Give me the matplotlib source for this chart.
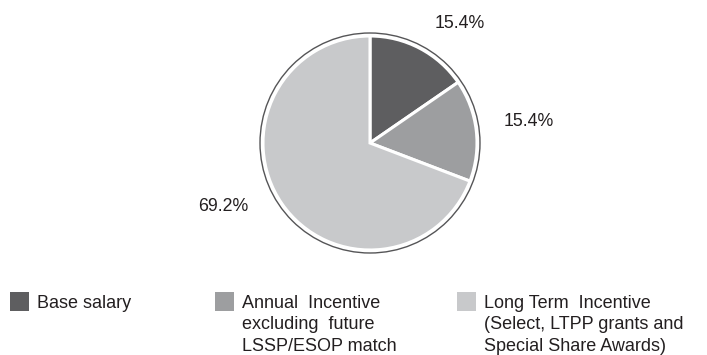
import numpy as np
import matplotlib.pyplot as plt
from matplotlib.patches import Circle, Rectangle

# data
categories = ["Base salary",
              "Annual  Incentive\nexcluding  future\nLSSP/ESOP match",
              "Long Term  Incentive\n(Select, LTPP grants and\nSpecial Share Awards)"]
values = [15.4, 15.4, 69.2]
colors = ["#5e5e60", "#9d9ea0", "#c8c9cb"]

plt.rcParams['font.family'] = ['Liberation Sans', 'DejaVu Sans']
text_color = "#231f20"

W, H = 707, 355
fig = plt.figure(figsize=(W / 100, H / 100), dpi=100)

# pie axes: one data unit = pie radius in pixels
cx, cy, r = 370, 143, 107
ax = fig.add_axes([0, 0, 1, 1])
ax.pie(values, colors=colors, startangle=90, counterclock=False,
       radius=1, wedgeprops=dict(edgecolor="white", linewidth=2.2))
ax.add_patch(Circle((0, 0), 1.028, fill=False, edgecolor="#555557", linewidth=1.0))
ax.set_xlim(-cx / r, (W - cx) / r)
ax.set_ylim(-(H - cy) / r, cy / r)
ax.set_aspect('auto')
ax.axis('off')

# percentage labels (positions)
label_pos = [(0.84, 1.12), (1.48, 0.20), (-1.37, -0.59)]
for v, (lx, ly) in zip(values, label_pos):
    ax.text(lx, ly, "%.1f%%" % v, ha="center", va="center",
            fontsize=12.8, color=text_color)

# legend, drawn in pixel coordinates
lax = fig.add_axes([0, 0, 1, 1])
lax.set_xlim(0, W)
lax.set_ylim(H, 0)
lax.axis('off')
leg_x = [10, 215, 457]
for x, c, lab in zip(leg_x, colors, categories):
    lax.add_patch(Rectangle((x, 292), 19, 19, facecolor=c, edgecolor="none"))
    lax.text(x + 27, 294.5, lab, ha="left", va="top", fontsize=13,
             color=text_color, linespacing=1.36)

fig.savefig("out.png", dpi=100)
